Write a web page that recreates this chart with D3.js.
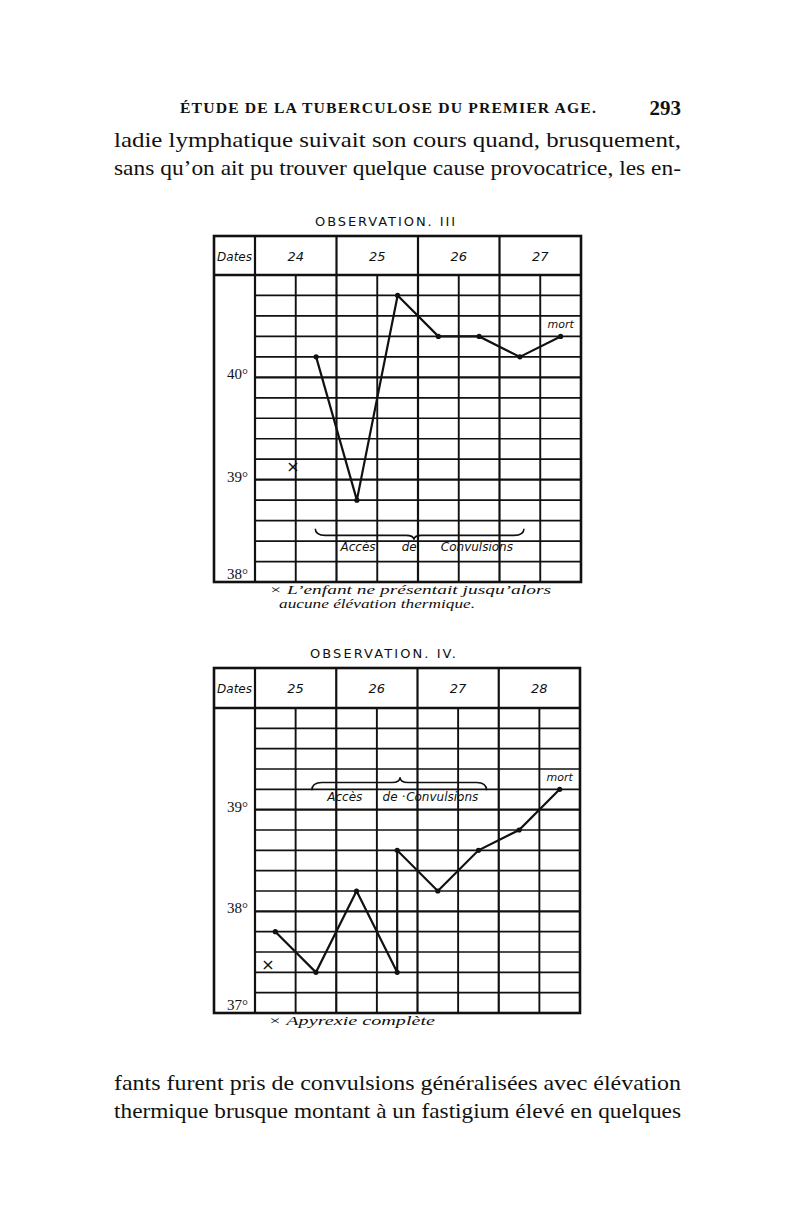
<!DOCTYPE html>
<meta charset="utf-8">
<script src="https://d3js.org/d3.v7.min.js"></script>
<style>
  body { margin: 0; background: #fff; }
</style>
<div id="page"></div>
<script>
// page text
const pageHeader = "ÉTUDE DE LA TUBERCULOSE DU PREMIER AGE.";
const pageNumber = "293";
const topLines = [
    "ladie lymphatique  suivait son cours quand, brusquement,",
    "sans qu’on ait pu trouver quelque cause provocatrice, les en-"
];
const bottomLines = [
    "fants furent pris de convulsions généralisées avec élévation",
    "thermique brusque montant à un fastigium élevé en quelques"
];

// Observation III
const obs3Title = "OBSERVATION.  III";
const obs3Days = ["24", "25", "26", "27"];
const obs3Slots = [1, 2, 3, 4, 5, 6, 7];          // half-day column (matin / soir)
const obs3Temps = [40.2, 38.8, 40.8, 40.4, 40.4, 40.2, 40.4];
const obs3Ticks = [38, 39, 40];
const obs3Words = ["Accès", "de", "Convulsions"];
const obs3Notes = ["× L’enfant ne présentait jusqu’alors", "aucune élévation thermique."];

// Observation IV
const obs4Title = "OBSERVATION.  IV.";
const obs4Days = ["25", "26", "27", "28"];
const obs4Slots = [0, 1, 2, 3, 3, 4, 5, 6, 7];
const obs4Temps = [37.8, 37.4, 38.2, 37.4, 38.6, 38.2, 38.6, 38.8, 39.2];
const obs4Ticks = [37, 38, 39];
const obs4Words = ["Accès", "de ·", "Convulsions"];
const obs4Notes = ["×  Apyrexie complète"];

const W = 800, H = 1215;
const svg = d3.select("#page").append("svg")
    .attr("width", W).attr("height", H);
svg.append("rect").attr("width", W).attr("height", H).attr("fill", "#fff");

const ink = "#111";
const serif = "'Liberation Serif', 'DejaVu Serif', serif";
const hand = "'DejaVu Sans', sans-serif";

// running head
svg.append("text").attr("x", 180).attr("y", 113)
    .attr("font-family", serif).attr("font-size", 14).attr("font-weight", "bold")
    .attr("letter-spacing", 1).attr("textLength", 417).attr("lengthAdjust", "spacingAndGlyphs")
    .attr("fill", ink).text(pageHeader);
svg.append("text").attr("x", 681).attr("y", 115).attr("text-anchor", "end")
    .attr("font-family", serif).attr("font-size", 21).attr("font-weight", "bold")
    .attr("fill", ink).text(pageNumber);

function bodyLines(lines, y0) {
    svg.selectAll(null).data(lines).join("text")
        .attr("x", 114).attr("y", (d, i) => y0 + i * 28)
        .attr("font-family", serif).attr("font-size", 22)
        .attr("textLength", 567).attr("lengthAdjust", "spacingAndGlyphs")
        .attr("fill", ink).text(d => d);
}
bodyLines(topLines, 147);
bodyLines(bottomLines, 1090);

function bracePath(x1, x2, xm, y, h) {
    const q = y + h * 0.6, t = y + h;
    return `M${x1},${y} Q${x1},${q} ${x1 + 10},${q} L${xm - 8},${q} Q${xm},${q} ${xm},${t}` +
        ` Q${xm},${q} ${xm + 8},${q} L${x2 - 10},${q} Q${x2},${q} ${x2},${y}`;
}

function drawChart(o) {
    const g = svg.append("g");
    const x = d3.scaleLinear().domain([0, 8]).range([o.left + 41, o.right]);
    const y = d3.scaleLinear().domain([o.ticks[0], o.ticks[0] + 3]).range([o.bottom, o.headBottom]);

    // title
    g.append("text").attr("x", o.titleX).attr("y", o.top - 10)
        .attr("font-family", hand).attr("font-size", 13)
        .attr("textLength", o.titleLen).attr("lengthAdjust", "spacing")
        .attr("fill", ink).text(o.title);

    // horizontal grid (0.2° per row)
    const rows = d3.range(1, 15).map(i => o.ticks[0] + i * 0.2);
    g.selectAll(null).data(rows).join("line")
        .attr("x1", x(0)).attr("x2", x(8))
        .attr("y1", d => y(d)).attr("y2", d => y(d))
        .attr("stroke", ink)
        .attr("stroke-width", d => Math.abs(d - Math.round(d)) < 1e-6 ? 2.4 : 1.7);

    // half-day verticals
    g.selectAll(null).data([1, 3, 5, 7]).join("line")
        .attr("x1", d => x(d)).attr("x2", d => x(d))
        .attr("y1", o.headBottom).attr("y2", o.bottom)
        .attr("stroke", ink).attr("stroke-width", 1.9);

    // day verticals
    g.selectAll(null).data([0, 2, 4, 6]).join("line")
        .attr("x1", d => x(d)).attr("x2", d => x(d))
        .attr("y1", o.top).attr("y2", o.bottom)
        .attr("stroke", ink).attr("stroke-width", 2.2);

    // header line and frame
    g.append("line").attr("x1", o.left).attr("x2", o.right)
        .attr("y1", o.headBottom).attr("y2", o.headBottom)
        .attr("stroke", ink).attr("stroke-width", 2.4);
    g.append("rect").attr("x", o.left).attr("y", o.top)
        .attr("width", o.right - o.left).attr("height", o.bottom - o.top)
        .attr("fill", "none").attr("stroke", ink).attr("stroke-width", 2.6);

    // header labels
    const hy = (o.top + o.headBottom) / 2 + 5;
    g.append("text").attr("x", (o.left + x(0)) / 2).attr("y", hy)
        .attr("text-anchor", "middle").attr("font-family", hand).attr("font-style", "italic")
        .attr("font-size", 12).attr("fill", ink).text("Dates");
    g.selectAll(null).data(o.days).join("text")
        .attr("x", (d, i) => x(i * 2 + 1)).attr("y", hy)
        .attr("text-anchor", "middle").attr("font-family", hand).attr("font-style", "italic")
        .attr("font-size", 13).attr("fill", ink).text(d => d);

    // degree labels (lowest sits just above the bottom rule)
    g.selectAll(null).data(o.ticks).join("text")
        .attr("x", x(0) - 7).attr("y", d => d === o.ticks[0] ? y(d) - 3 : y(d) + 2)
        .attr("text-anchor", "end").attr("font-family", serif).attr("font-size", 15)
        .attr("fill", ink).text(d => d + "°");

    // temperature curve
    const pts = o.slots.map((s, i) => [x(s + 0.5), y(o.temps[i])]);
    g.append("path").attr("d", d3.line()(pts))
        .attr("fill", "none").attr("stroke", ink).attr("stroke-width", 2.2)
        .attr("stroke-linejoin", "miter");
    g.selectAll(null).data(pts).join("circle")
        .attr("cx", d => d[0]).attr("cy", d => d[1]).attr("r", 2.6).attr("fill", ink);

    // "mort"
    g.append("text").attr("x", x(7.5)).attr("y", y(o.mortT))
        .attr("text-anchor", "middle").attr("font-family", hand).attr("font-style", "italic")
        .attr("font-size", 11).attr("fill", ink).text("mort");

    // × marker
    g.append("text").attr("x", x(o.cross[0])).attr("y", y(o.cross[1]) + 5)
        .attr("text-anchor", "middle").attr("font-family", hand).attr("font-size", 16)
        .attr("fill", ink).text("×");

    // brace and label
    g.append("path")
        .attr("d", bracePath(x(o.brace[0]), x(o.brace[1]), x(o.brace[2]), y(o.brace[3]), o.brace[4]))
        .attr("fill", "none").attr("stroke", ink).attr("stroke-width", 1.6);
    g.selectAll(null).data(o.words).join("text")
        .attr("x", (d, i) => x(o.wordX[i])).attr("y", y(o.wordT) + 4)
        .attr("font-family", hand).attr("font-style", "italic")
        .attr("font-size", 12).attr("fill", ink).text(d => d);

    // footnote
    g.selectAll(null).data(o.notes).join("text")
        .attr("x", (d, i) => o.noteX[i]).attr("y", (d, i) => o.bottom + 12 + i * 14)
        .attr("font-family", serif).attr("font-style", "italic").attr("font-size", 13)
        .attr("textLength", (d, i) => o.noteLen[i]).attr("lengthAdjust", "spacingAndGlyphs")
        .attr("fill", ink).text(d => d);
}

drawChart({
    title: obs3Title, titleX: 315, titleLen: 140,
    days: obs3Days, slots: obs3Slots, temps: obs3Temps, ticks: obs3Ticks,
    left: 214, right: 581, top: 236, headBottom: 275, bottom: 582,
    mortT: 40.48, cross: [0.93, 39.12],
    brace: [1.48, 6.6, 3.9, 38.52, 11],
    words: obs3Words, wordX: [2.1, 3.6, 4.56], wordT: 38.34,
    notes: obs3Notes, noteX: [269, 279], noteLen: [282, 196]
});

drawChart({
    title: obs4Title, titleX: 310, titleLen: 146,
    days: obs4Days, slots: obs4Slots, temps: obs4Temps, ticks: obs4Ticks,
    left: 214, right: 580, top: 668, headBottom: 708, bottom: 1013,
    mortT: 39.28, cross: [0.32, 37.47],
    brace: [1.4, 5.7, 3.57, 39.19, -13],
    words: obs4Words, wordX: [1.78, 3.14, 3.72], wordT: 39.12,
    notes: obs4Notes, noteX: [268], noteLen: [167]
});
</script>
